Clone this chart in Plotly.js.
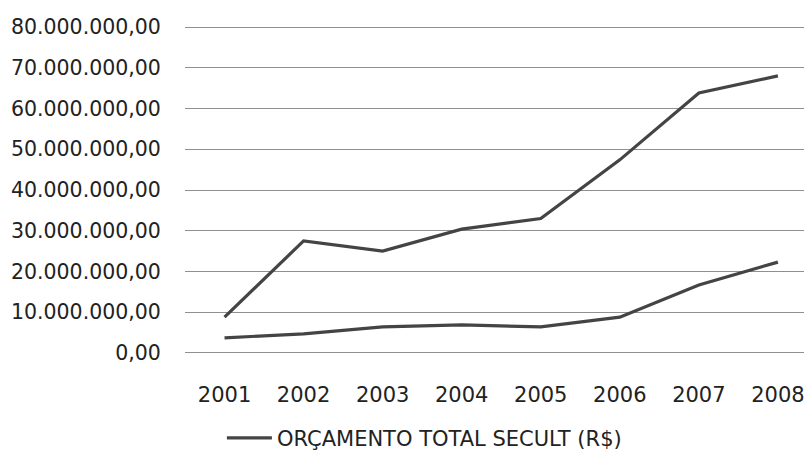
<!DOCTYPE html>
<html>
<head>
<meta charset="utf-8">
<script src="https://cdn.plot.ly/plotly-3.0.1.min.js"></script>
<style>html,body{margin:0;padding:0;background:#fff;}#chart{width:804px;height:455px;}</style>
</head>
<body>
<div id="chart"></div>
<script>
const years = ["2001","2002","2003","2004","2005","2006","2007","2008"];
const totalSecult = [8800000, 27500000, 25000000, 30400000, 33000000, 47400000, 63800000, 68000000];
const secondSeries = [3700000, 4700000, 6400000, 6900000, 6400000, 8800000, 16700000, 22300000];
const yTickVals = [0,10000000,20000000,30000000,40000000,50000000,60000000,70000000,80000000];
const yTickText = ["0,00","10.000.000,00","20.000.000,00","30.000.000,00","40.000.000,00","50.000.000,00","60.000.000,00","70.000.000,00","80.000.000,00"];
const legendLabel = "ORÇAMENTO TOTAL SECULT (R$)";

const lineColor = "#444";
const traces = [
  {x: years, y: totalSecult, type: "scatter", mode: "lines", name: legendLabel,
   line: {color: lineColor, width: 3.2}, showlegend: true},
  {x: years, y: secondSeries, type: "scatter", mode: "lines", name: "",
   line: {color: lineColor, width: 3.2}, showlegend: false}
];
const fam = "DejaVu Sans, Verdana, sans-serif";
const layout = {
  width: 804, height: 455,
  margin: {l: 185, r: 0, t: 25, b: 100, autoexpand: false},
  paper_bgcolor: "#fff", plot_bgcolor: "#fff",
  font: {family: fam, size: 20, color: "#222"},
  showlegend: true,
  xaxis: {type: "category", range: [-0.5, 7.33], showgrid: false, zeroline: false,
          showline: false, ticks: "outside", ticklen: 21, tickcolor: "rgba(0,0,0,0)",
          tickfont: {family: fam, size: 21, color: "#222"}},
  yaxis: {range: [-500000, 80500000], tickvals: yTickVals, ticktext: yTickText,
          showgrid: true, gridcolor: "#909090", gridwidth: 1, zeroline: false,
          showline: false, ticks: "outside", ticklen: 19, tickcolor: "rgba(0,0,0,0)",
          tickfont: {family: fam, size: 20.5, color: "#222"}},
  legend: {orientation: "h", xref: "container", yref: "container",
           x: 0.276, xanchor: "left", y: 0.037, yanchor: "middle",
           itemwidth: 45,
           font: {family: fam, size: 21, color: "#222"}, bgcolor: "rgba(0,0,0,0)"}
};
Plotly.newPlot("chart", traces, layout, {displayModeBar: false, staticPlot: true});
</script>
</body>
</html>
